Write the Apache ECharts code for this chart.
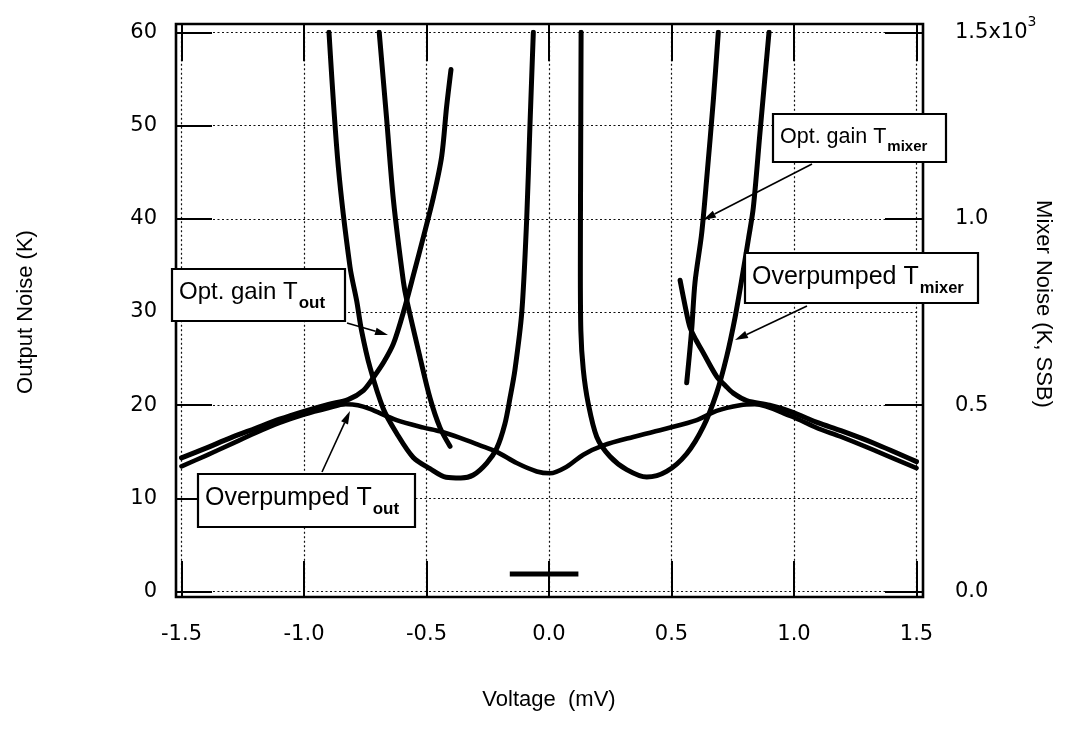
<!DOCTYPE html>
<html><head><meta charset="utf-8">
<script src="https://cdn.jsdelivr.net/npm/echarts@6/dist/echarts.min.js"></script>
<style>html,body{margin:0;padding:0;background:#fff}#c{width:1067px;height:730px}</style>
</head><body><div id="c"></div>
<script>
// ---- data (voltage in mV; output noise in K; mixer noise in 10^3 K, SSB) ----
const xTickValues = [-1.5, -1.0, -0.5, 0.0, 0.5, 1.0, 1.5];
const leftTickValues = [0, 10, 20, 30, 40, 50, 60];
const rightTickValues = [0.0, 0.5, 1.0, 1.5];

const optGainToutLeft = [[-1.5,14.35],[-1.4,15.4],[-1.3,16.5],[-1.2,17.5],[-1.1,18.5],[-1.0,19.35],[-0.9,20.1],[-0.82,20.6],[-0.757,21.6],[-0.716,23.0],[-0.675,24.6],[-0.635,26.6],[-0.594,30.0],[-0.55,34.3],[-0.512,38.1],[-0.471,42.4],[-0.438,46.7],[-0.418,52.0],[-0.40,56.0]];
const optGainToutRight = [[0.535,33.4],[0.556,30.6],[0.576,28.3],[0.60,27.0],[0.63,25.6],[0.684,23.1],[0.72,22.1],[0.752,21.3],[0.807,20.5],[0.9,20.0],[0.984,19.35],[1.1,18.1],[1.188,17.3],[1.324,15.95],[1.5,13.95]];
const overpumpedTout = [[-1.5,13.45],[-1.4,14.6],[-1.3,15.8],[-1.2,17.0],[-1.1,18.1],[-1.0,19.0],[-0.9,19.7],[-0.83,20.1],[-0.78,20.0],[-0.731,19.6],[-0.622,18.4],[-0.512,17.6],[-0.445,17.2],[-0.363,16.5],[-0.282,15.7],[-0.213,15.0],[-0.132,13.8],[-0.05,12.9],[0.004,12.7],[0.072,13.4],[0.14,14.7],[0.222,15.7],[0.344,16.6],[0.48,17.5],[0.603,18.4],[0.684,19.4],[0.78,20.0],[0.84,20.1],[0.984,18.85],[1.1,17.5],[1.188,16.65],[1.324,15.2],[1.5,13.25]];

const optGainTmixerLeft = [[-0.693,1.50],[-0.663,1.27],[-0.635,1.05],[-0.594,0.83],[-0.58,0.78],[-0.527,0.63],[-0.486,0.52],[-0.445,0.44],[-0.404,0.39]];
const optGainTmixerRight = [[0.562,0.56],[0.582,0.70],[0.596,0.83],[0.623,0.96],[0.644,1.11],[0.671,1.32],[0.691,1.50]];
const overpumpedTmixerLeft = [[-0.898,1.50],[-0.86,1.14],[-0.812,0.87],[-0.785,0.78],[-0.765,0.70],[-0.73,0.60],[-0.676,0.49],[-0.622,0.425],[-0.554,0.36],[-0.486,0.33],[-0.42,0.307],[-0.36,0.305],[-0.309,0.313],[-0.254,0.345],[-0.213,0.385],[-0.18,0.45],[-0.159,0.52],[-0.139,0.595],[-0.111,0.75],[-0.091,1.0],[-0.078,1.245],[-0.064,1.50]];
const overpumpedTmixerRight = [[0.131,1.50],[0.129,1.125],[0.128,0.875],[0.13,0.70],[0.14,0.595],[0.16,0.505],[0.195,0.415],[0.249,0.3625],[0.317,0.3275],[0.399,0.3075],[0.48,0.3225],[0.562,0.37],[0.63,0.4425],[0.684,0.5325],[0.725,0.63],[0.76,0.7375],[0.79,0.85],[0.815,0.95],[0.834,1.03],[0.861,1.23],[0.898,1.50]];
const scaleBar = [[-0.16,1.9],[0.12,1.9]];

// ---- rendering ----
const FONT = '"Liberation Sans", Arial, sans-serif';
const TICKFONT = '"DejaVu Sans", sans-serif';
const chart = echarts.init(document.getElementById('c'), null, {renderer: 'canvas'});

const mctx = document.createElement('canvas').getContext('2d');
function textW(t, size, weight) { mctx.font = (weight || 'normal') + ' ' + size + 'px ' + FONT; return mctx.measureText(t).width; }

function lineSeries(name, data, yIdx, width) {
  return {name, type: 'line', data, yAxisIndex: yIdx, xAxisIndex: 0, showSymbol: false, symbol: 'none',
    smooth: 0.3, lineStyle: {color: '#000', width: width || 5, cap: 'round', join: 'round'}, z: 3, silent: true};
}

function box(x, y, w, h, main, sub, mSize, sSize, tx, ty, sdy) {
  const mw = textW(main, mSize, 'normal');
  return [
    {type: 'rect', shape: {x, y, width: w, height: h}, style: {fill: '#fff', stroke: '#000', lineWidth: 2.2}, z: 100, silent: true},
    {type: 'text', x: tx, y: ty, style: {text: main, font: 'normal ' + mSize + 'px ' + FONT, fill: '#000', align: 'left', verticalAlign: 'middle'}, z: 101, silent: true},
    {type: 'text', x: tx + mw + 1, y: ty + sdy, style: {text: sub, font: 'bold ' + sSize + 'px ' + FONT, fill: '#000', align: 'left', verticalAlign: 'middle'}, z: 101, silent: true}
  ];
}
function arrow(x1, y1, x2, y2) {
  const dx = x2 - x1, dy = y2 - y1, L = Math.hypot(dx, dy), ux = dx / L, uy = dy / L;
  const hl = 13, hw = 3.8;
  const bx = x2 - ux * hl, by = y2 - uy * hl;
  return [
    {type: 'line', shape: {x1, y1, x2: bx, y2: by}, style: {stroke: '#000', lineWidth: 1.6}, z: 99, silent: true},
    {type: 'polygon', shape: {points: [[x2, y2], [bx - uy * hw, by + ux * hw], [bx + uy * hw, by - ux * hw]]}, style: {fill: '#000'}, z: 99, silent: true}
  ];
}

const gridCol = '#111';
const noLine = {show: false, onZero: false};
const option = {
  backgroundColor: '#fff',
  animation: false,
  grid: {left: 181.5, right: 150.5, top: 32.3, bottom: 138.3, containLabel: false, outerBoundsMode: 'none'},
  xAxis: [
    {type: 'value', position: 'bottom', min: -1.5, max: 1.5, interval: 0.5, offset: 5.3,
      axisLine: noLine,
      axisTick: {show: true, inside: true, length: 36, lineStyle: {color: '#000', width: 2}},
      axisLabel: {show: true, margin: 27, color: '#000', fontSize: 21, fontFamily: TICKFONT, formatter: v => v.toFixed(1)},
      splitLine: {show: true, lineStyle: {color: gridCol, width: 1.2, type: [2, 2.5]}},
      name: 'Voltage  (mV)', nameLocation: 'middle', nameGap: 92,
      nameTextStyle: {color: '#000', fontSize: 22, fontFamily: FONT}},
    {type: 'value', position: 'top', min: -1.5, max: 1.5, interval: 0.5, offset: 8,
      axisLine: noLine,
      axisTick: {show: true, inside: true, length: 37, lineStyle: {color: '#000', width: 2}},
      axisLabel: {show: false}, splitLine: {show: false}}
  ],
  yAxis: [
    {type: 'value', position: 'left', min: 0, max: 60, interval: 10, offset: 5.5,
      axisLine: noLine,
      axisTick: {show: true, inside: true, length: 36, lineStyle: {color: '#000', width: 2}},
      axisLabel: {show: true, margin: 19, color: '#000', fontSize: 21, fontFamily: TICKFONT, formatter: v => String(v)},
      splitLine: {show: true, lineStyle: {color: gridCol, width: 1.2, type: [2, 2.5]}},
      name: 'Output Noise (K)', nameLocation: 'middle', nameGap: 139,
      nameTextStyle: {color: '#000', fontSize: 22, fontFamily: FONT}},
    {type: 'value', position: 'right', min: 0, max: 1.5, interval: 0.5, offset: 6.5,
      axisLine: noLine,
      axisTick: {show: true, inside: true, length: 38, lineStyle: {color: '#000', width: 2}},
      axisLabel: {show: true, margin: 32, color: '#000', fontSize: 21, fontFamily: TICKFONT,
        formatter: v => Math.abs(v - 1.5) < 1e-9 ? '{a|1.5x10}{s|3}' : v.toFixed(1),
        rich: {a: {fontSize: 21, fontFamily: TICKFONT, color: '#000', lineHeight: 34},
               s: {fontSize: 14, fontFamily: TICKFONT, color: '#000', lineHeight: 14, verticalAlign: 'top'}}},
      splitLine: {show: false}}
  ],
  series: [
    lineSeries('Opt. gain T_out (left)', optGainToutLeft, 0),
    lineSeries('Opt. gain T_out (right)', optGainToutRight, 0),
    lineSeries('Overpumped T_out', overpumpedTout, 0, 4.6),
    lineSeries('Opt. gain T_mixer (left)', optGainTmixerLeft, 1),
    lineSeries('Opt. gain T_mixer (right)', optGainTmixerRight, 1),
    lineSeries('Overpumped T_mixer (left)', overpumpedTmixerLeft, 1),
    lineSeries('Overpumped T_mixer (right)', overpumpedTmixerRight, 1),
    Object.assign(lineSeries('scale bar', scaleBar, 0, 5), {smooth: false, lineStyle: {color: '#000', width: 5, cap: 'butt'}})
  ],
  graphic: [].concat(
    [{type: 'rect', shape: {x: 176, y: 24, width: 747, height: 573}, style: {fill: 'none', stroke: '#000', lineWidth: 2.6}, z: 50, silent: true},
     {type: 'text', x: 1043, y: 304, rotation: -Math.PI / 2,
      style: {text: 'Mixer Noise (K, SSB)', font: 'normal 22px ' + FONT, fill: '#000', align: 'center', verticalAlign: 'middle'}, z: 10, silent: true}],
    arrow(347, 323, 388, 335),
    arrow(322, 472, 350, 411),
    arrow(812, 164, 703, 220),
    arrow(807, 306, 735, 340),
    box(172, 269, 173, 52, 'Opt. gain T', 'out', 24, 17, 179, 292, 11),
    box(198, 474, 217, 53, 'Overpumped T', 'out', 25, 17, 205, 498, 11),
    box(773, 114, 173, 48, 'Opt. gain T', 'mixer', 21.5, 15, 780, 137, 10),
    box(745, 253, 233, 50, 'Overpumped T', 'mixer', 25, 16.5, 752, 277, 11)
  )
};
chart.setOption(option);
</script></body></html>
